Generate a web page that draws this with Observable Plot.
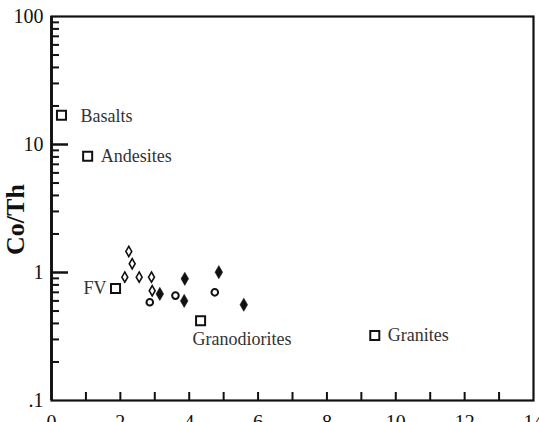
<!DOCTYPE html>
<html>
<head>
<meta charset="utf-8">
<script src="https://cdn.jsdelivr.net/npm/d3@7"></script>
<script src="https://cdn.jsdelivr.net/npm/@observablehq/plot@0.6"></script>
<style>
  html, body { margin: 0; padding: 0; background: #fff; overflow: hidden; }
  svg text { font-family: "Liberation Serif", "Times New Roman", serif; }
</style>
</head>
<body>
<div id="chart"></div>
<script>
// Reference rock compositions (open squares)
const refNames = ["Basalts", "Andesites", "FV", "Granodiorites", "Granites"];
const refX = [0.29, 1.05, 1.86, 4.33, 9.39];
const refY = [16.9, 8.1, 0.75, 0.42, 0.322];

// Samples: open diamonds
const openDiamondX = [2.245, 2.344, 2.129, 2.547, 2.904, 2.925];
const openDiamondY = [1.46, 1.17, 0.92, 0.92, 0.92, 0.72];

// Samples: open circles
const circleX = [2.855, 3.60, 4.743];
const circleY = [0.586, 0.66, 0.70];

// Samples: filled diamonds
const filledDiamondX = [3.146, 3.872, 3.854, 4.86, 5.585];
const filledDiamondY = [0.68, 0.893, 0.60, 1.005, 0.56];

// Axis ticks
const yMajorTicks = [1, 10];
const yMinorTicks = [0.1, 1, 10].flatMap(d => [2,3,4,5,6,7,8,9].map(k => +(k * d).toPrecision(3)));
const yLabelTicks = [0.1, 1, 10, 100];
const yLabelText = [".1", "1", "10", "100"];
const xMinorTicks = [1,2,3,4,5,6,7,8,9,10,11,12,13];
const xLabelTicks = [0,2,4,6,8,10,12,14];

const zip = (xs, ys) => xs.map((x, i) => ({x, y: ys[i]}));
const refs = refNames.map((name, i) => ({name, x: refX[i], y: refY[i]}));
const openD = zip(openDiamondX, openDiamondY);
const circ = zip(circleX, circleY);
const fillD = zip(filledDiamondX, filledDiamondY);

const font = "Liberation Serif";
const labelColor = "#333";
const lbl = (name) => refs.filter(d => d.name === name);
const txt = (name, opts) => Plot.text(lbl(name), {x: "x", y: "y", text: "name", fontSize: 18,
  fill: labelColor, fontFamily: font, ...opts});

const chart = Plot.plot({
  width: 539,
  height: 422,
  marginLeft: 51,
  marginRight: 6,
  marginTop: 16,
  marginBottom: 22,
  style: {fontFamily: font, fontSize: "20px", background: "#fff", color: "#111"},
  x: {domain: [0, 14], label: null},
  y: {type: "log", domain: [0.1, 100], label: null},
  marks: [
    // minor/major inward ticks
    Plot.axisY(yMinorTicks, {anchor: "left", tickSize: -8, tickFormat: () => "", strokeWidth: 2, label: null}),
    Plot.axisY(yMajorTicks, {anchor: "left", tickSize: -17, tickFormat: () => "", strokeWidth: 2.5, label: null}),
    Plot.axisY(yLabelTicks, {anchor: "left", tickSize: 0, tickPadding: 8, fontSize: 20, fontFamily: font, fill: "#111",
      tickFormat: d => yLabelText[yLabelTicks.indexOf(d)], label: null}),
    Plot.axisX(xMinorTicks, {anchor: "bottom", tickSize: -8, tickFormat: () => "", strokeWidth: 2, label: null}),
    Plot.axisX(xLabelTicks, {anchor: "bottom", tickSize: 0, tickPadding: 14, fontSize: 20, fontFamily: font, fill: "#111", label: null}),
    Plot.frame({stroke: "#111", strokeWidth: 2.2}),
    Plot.ruleX([0], {stroke: "#111", strokeWidth: 2.8}),
    // y title
    Plot.text(["Co/Th"], {frameAnchor: "left", textAnchor: "middle", rotate: -90, dx: -36, dy: 11, fontSize: 26,
      fontWeight: "bold", fill: "#111", fontFamily: font}),
    // reference rocks
    Plot.dot(refs, {x: "x", y: "y", symbol: "square", r: 5.1, stroke: "#111", strokeWidth: 2, fill: "white"}),
    // samples
    Plot.dot(openD, {x: "x", y: "y", symbol: "diamond", r: 3.1, stroke: "#111", strokeWidth: 1.6, fill: "white"}),
    Plot.dot(circ, {x: "x", y: "y", symbol: "circle", r: 3.3, stroke: "#111", strokeWidth: 2, fill: "white"}),
    Plot.dot(fillD, {x: "x", y: "y", symbol: "diamond", r: 4.0, fill: "#111", stroke: "#111", strokeWidth: 0.5}),
    // labels
    txt("Basalts", {textAnchor: "start", dx: 19, dy: 1}),
    txt("Andesites", {textAnchor: "start", dx: 13, dy: 0}),
    txt("FV", {textAnchor: "end", dx: -9, dy: 0}),
    txt("Granodiorites", {textAnchor: "start", dx: -8, dy: 19}),
    txt("Granites", {textAnchor: "start", dx: 13, dy: 0})
  ]
});
document.getElementById("chart").appendChild(chart);
</script>
</body>
</html>
